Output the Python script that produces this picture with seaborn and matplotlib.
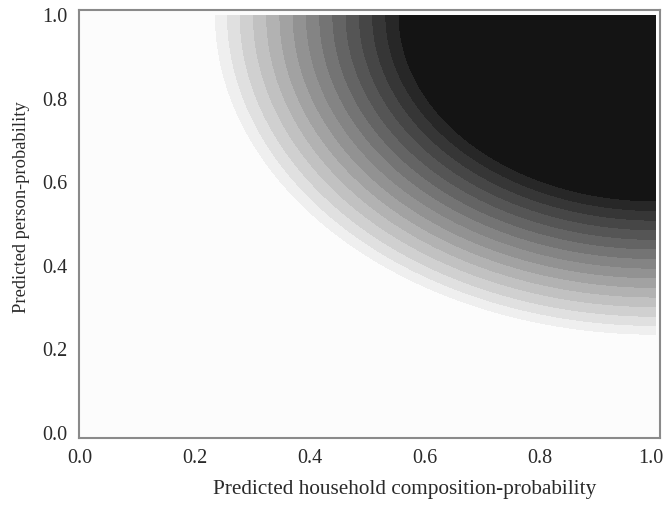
import numpy as np
import matplotlib
matplotlib.use("Agg")
import matplotlib.pyplot as plt
import matplotlib.transforms as mtransforms
import seaborn as sns

# point where the predicted probability is highest (both inputs = 1)
center_x = 1.0
center_y = 1.0

# band edges, as distance from the center
# (inside the first edge = black, outside the last edge = white)
band_edges = [0.447, 0.470, 0.493, 0.516, 0.539, 0.562, 0.585, 0.608,
              0.631, 0.654, 0.677, 0.700, 0.723, 0.745, 0.766]

x_ticks = [0.0, 0.2, 0.4, 0.6, 0.8, 1.0]
y_ticks = [0.0, 0.2, 0.4, 0.6, 0.8, 1.0]
x_label = "Predicted household composition-probability"
y_label = "Predicted person-probability"

sns.set_style("white")
plt.rcParams["font.family"] = ["Liberation Serif", "DejaVu Serif"]

# grid over the unit square
gx = np.linspace(0, 1, 600)
gy = np.linspace(0, 1, 600)
XX, YY = np.meshgrid(gx, gy)
dist = np.sqrt((XX - center_x) ** 2 + (YY - center_y) ** 2)

grays = sns.blend_palette(["#272727", "#efefef"], len(band_edges) - 1)
colors = ["#141414"] + list(grays) + ["#fcfcfc"]
levels = [0.0] + band_edges + [2.0]

fig = plt.figure(figsize=(6.66, 5.09), dpi=100)
ax = fig.add_axes([0.118, 0.1395, 0.873, 0.8405])
ax.set_facecolor("#fcfcfc")
ax.contourf(XX, YY, dist, levels=levels, colors=colors, antialiased=False)

ax.set_xlim(-0.002, 1.008)
ax.set_ylim(-0.012, 1.012)
ax.set_xticks(x_ticks)
ax.set_yticks(y_ticks)
ax.set_xticklabels([f"{t:.1f}" for t in x_ticks])
ax.set_yticklabels([f"{t:.1f}" for t in y_ticks])
ax.tick_params(direction="out", length=5, width=1.2, color="#7a7a7a",
               labelsize=14.5, labelcolor="#2a2a2a", pad=3)
for s in ax.spines.values():
    s.set_color("#8a8a8a")
    s.set_linewidth(1.5)

# last x tick label sits a little to the left, as in the original
last = ax.get_xticklabels()[-1]
last.set_transform(last.get_transform() +
                   mtransforms.ScaledTranslation(-3 / 72, 0, fig.dpi_scale_trans))

ax.set_xlabel(x_label, fontsize=15.3, color="#2a2a2a")
ax.set_ylabel(y_label, fontsize=13.3, color="#2a2a2a")
ax.xaxis.set_label_coords(0.561, -0.098)
ax.yaxis.set_label_coords(-0.083, 0.54)

fig.savefig("out.png", dpi=100)
